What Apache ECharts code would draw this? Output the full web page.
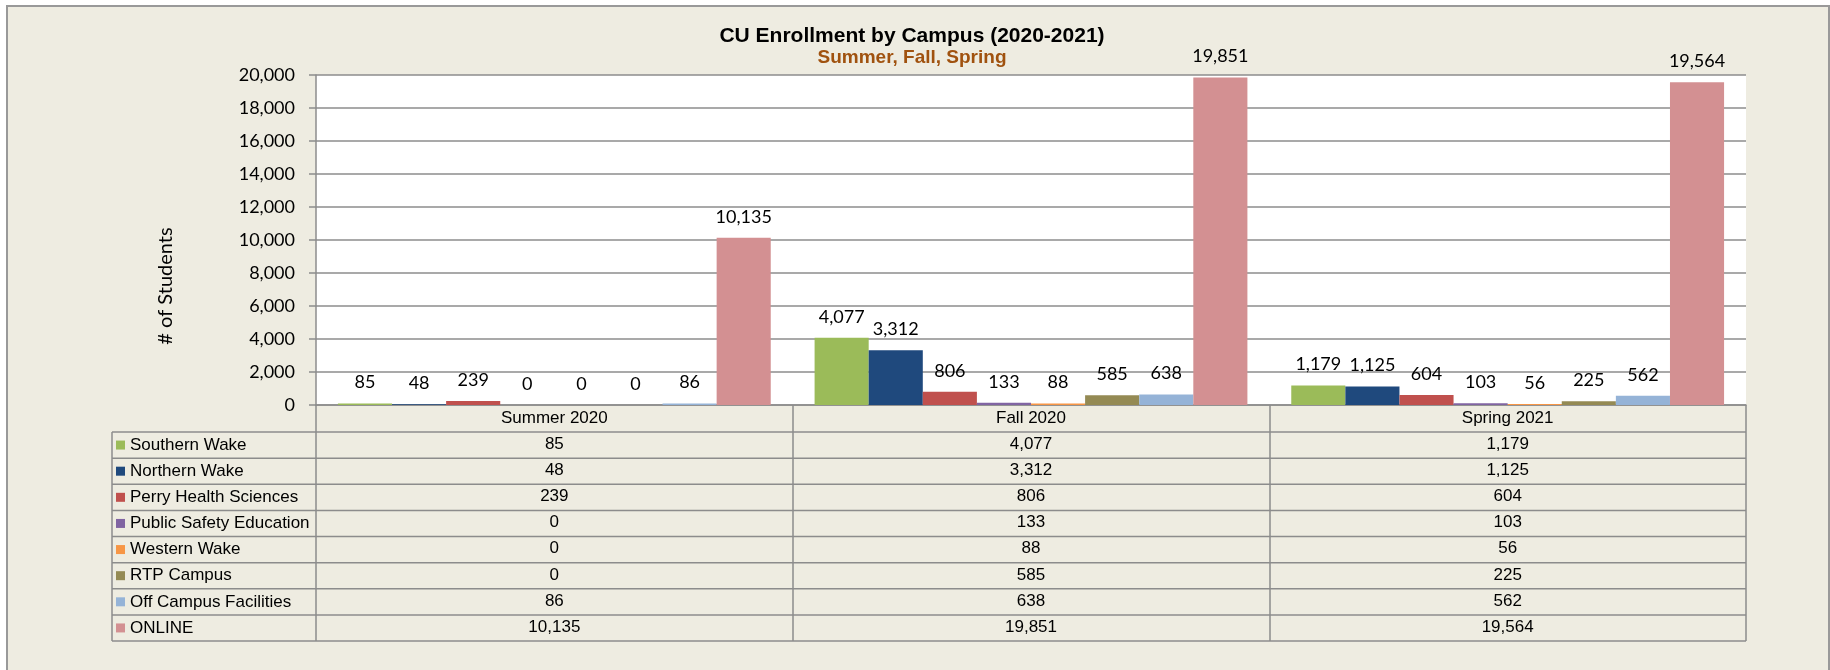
<!DOCTYPE html>
<html>
<head>
<meta charset="utf-8">
<title>CU Enrollment by Campus</title>
<script src="https://cdn.jsdelivr.net/npm/echarts@6/dist/echarts.min.js"></script>
<style>
  html, body { margin: 0; padding: 0; background: #fff; }
  #frame {
    position: absolute; left: 6px; top: 5px; width: 1820px; height: 670px;
    background: #EEECE1; border: 2px solid #999;
  }
  #main { position: absolute; left: 0; top: 0; width: 1830px; height: 670px; }
</style>
</head>
<body>
<div id="frame"></div>
<div id="main"></div>
<script>
  // categories (terms)
  var terms = ['Summer 2020', 'Fall 2020', 'Spring 2021'];
  // campuses in legend / table order
  var campuses = ['Southern Wake', 'Northern Wake', 'Perry Health Sciences', 'Public Safety Education',
    'Western Wake', 'RTP Campus', 'Off Campus Facilities', 'ONLINE'];
  var colors = ['#9BBB59', '#1F497D', '#C0504D', '#8064A2', '#F79646', '#948A54', '#95B3D7', '#D39092'];

  // enrollment per campus, one value per term
  var southernWake = [85, 4077, 1179];
  var northernWake = [48, 3312, 1125];
  var perryHealth = [239, 806, 604];
  var publicSafety = [0, 133, 103];
  var westernWake = [0, 88, 56];
  var rtpCampus = [0, 585, 225];
  var offCampus = [86, 638, 562];
  var online = [10135, 19851, 19564];

  var yTicks = [0, 2000, 4000, 6000, 8000, 10000, 12000, 14000, 16000, 18000, 20000];

  var values = [southernWake, northernWake, perryHealth, publicSafety, westernWake, rtpCampus, offCampus, online];

  function fmt(v) { return Number(v).toLocaleString('en-US'); }

  var myChart = echarts.init(document.getElementById('main'));

  // layout of the data table under the plot
  var plotLeft = 316, plotRight = 1746, plotTop = 75, plotBottom = 405;
  var tableLeft = 112, headerBottom = 432, rowH = 26.125;
  var tableBottom = headerBottom + rowH * campuses.length;
  var lineColor = '#8c8c8c';

  var graphics = [];
  for (var i = 0; i <= campuses.length; i++) {
    var y = headerBottom + rowH * i;
    graphics.push({
      type: 'line', silent: true,
      shape: { x1: tableLeft, y1: y, x2: plotRight, y2: y },
      style: { stroke: lineColor, lineWidth: 1.5 }
    });
  }
  graphics.push({
    type: 'line', silent: true,
    shape: { x1: tableLeft, y1: headerBottom, x2: tableLeft, y2: tableBottom },
    style: { stroke: lineColor, lineWidth: 1.5 }
  });

  var series = campuses.map(function (name, k) {
    return {
      name: name,
      type: 'bar',
      data: values[k],
      barGap: 0,
      barCategoryGap: '9.2%',
      itemStyle: { color: colors[k] },
      label: {
        show: true,
        position: 'top',
        distance: 12,
        fontFamily: 'Lato',
        fontSize: 18,
        color: '#000',
        formatter: function (p) { return fmt(p.value); }
      }
    };
  });

  var option = {
    animation: false,
    title: {
      text: 'CU Enrollment by Campus (2020-2021)',
      subtext: 'Summer, Fall, Spring',
      left: 907,
      textAlign: 'center',
      top: 21,
      itemGap: 1,
      textStyle: { fontFamily: 'Liberation Sans', fontWeight: 'bold', fontSize: 21, color: '#000' },
      subtextStyle: { fontFamily: 'Liberation Sans', fontWeight: 'bold', fontSize: 19, color: '#A0520F' }
    },
    legend: {
      orient: 'vertical',
      left: 116,
      top: headerBottom + (rowH - 17) / 2,
      padding: 0,
      itemGap: rowH - 17,
      itemWidth: 9,
      itemHeight: 9,
      icon: 'rect',
      selectedMode: false,
      data: campuses,
      textStyle: { fontFamily: 'Liberation Sans', fontSize: 17, lineHeight: 17, color: '#000' }
    },
    grid: {
      left: plotLeft,
      top: plotTop,
      width: plotRight - plotLeft,
      height: plotBottom - plotTop,
      show: true,
      backgroundColor: '#fff',
      borderWidth: 0
    },
    xAxis: {
      type: 'category',
      data: terms,
      axisLine: { show: true, lineStyle: { color: lineColor, width: 1.5 } },
      axisTick: {
        show: true, interval: 0, alignWithLabel: false,
        length: tableBottom - plotBottom,
        lineStyle: { color: lineColor, width: 1.5 }
      },
      axisLabel: {
        interval: 0,
        margin: 0,
        fontFamily: 'Liberation Sans',
        fontSize: 17,
        lineHeight: rowH,
        color: '#000',
        formatter: function (value, idx) {
          var lines = [value];
          values.forEach(function (arr) { lines.push(fmt(arr[idx])); });
          return lines.join('\n');
        }
      }
    },
    yAxis: {
      type: 'value',
      min: yTicks[0],
      max: yTicks[yTicks.length - 1],
      interval: yTicks[1] - yTicks[0],
      name: '# of Students',
      nameLocation: 'middle',
      nameGap: 140,
      nameTextStyle: { fontFamily: 'Lato', fontSize: 20, color: '#000', padding: [0, 92, 0, 0] },
      axisLine: { show: true, lineStyle: { color: lineColor, width: 1.5 } },
      axisTick: { show: true, length: 7, lineStyle: { color: lineColor, width: 1.5 } },
      axisLabel: {
        margin: 21,
        fontFamily: 'Lato',
        fontSize: 18,
        color: '#000',
        formatter: function (v) { return fmt(v); }
      },
      splitLine: { show: true, lineStyle: { color: lineColor, width: 1.5 } }
    },
    graphic: graphics,
    series: series
  };

  myChart.setOption(option);
  window.onresize = function () {
    myChart.resize();
  };
</script>
</body>
</html>
